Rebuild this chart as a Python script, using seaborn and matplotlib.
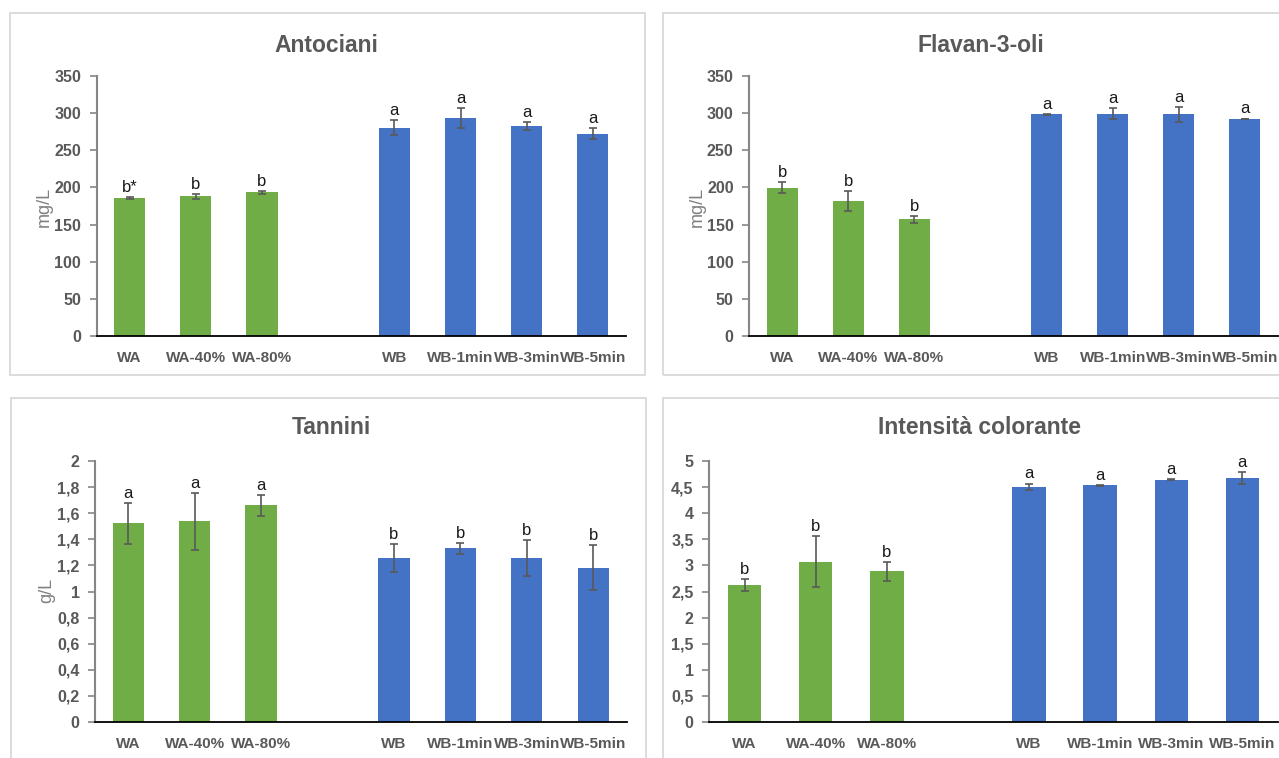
import matplotlib
matplotlib.use("Agg")
import matplotlib.pyplot as plt
from matplotlib.patches import Rectangle
import seaborn as sns
import pandas as pd

# ---------------- data ----------------
categories = ["WA", "WA-40%", "WA-80%", "WB", "WB-1min", "WB-3min", "WB-5min"]
groups = ["A", "A", "A", "B", "B", "B", "B"]
order = ["WA", "WA-40%", "WA-80%", " ", "WB", "WB-1min", "WB-3min", "WB-5min"]

antociani = [185.3, 188.0, 193.4, 280.4, 293.5, 282.7, 272.4]
antociani_err = [1.5, 3.5, 2.0, 10.0, 13.0, 5.5, 7.5]
antociani_lbl = ["b*", "b", "b", "a", "a", "a", "a"]

flavanoli = [199.7, 181.7, 157.0, 298.4, 299.3, 298.4, 292.1]
flavanoli_err = [7.5, 13.0, 5.0, 1.0, 7.0, 10.0, 0.6]
flavanoli_lbl = ["b", "b", "b", "a", "a", "a", "a"]

tannini = [1.522, 1.537, 1.662, 1.256, 1.330, 1.256, 1.182]
tannini_err = [0.158, 0.219, 0.080, 0.109, 0.040, 0.138, 0.173]
tannini_lbl = ["a", "a", "a", "b", "b", "b", "b"]

intensita = [2.625, 3.07, 2.886, 4.508, 4.534, 4.642, 4.674]
intensita_err = [0.11, 0.485, 0.176, 0.06, 0.012, 0.012, 0.115]
intensita_lbl = ["b", "b", "b", "a", "a", "a", "a"]

ticks_350 = [0, 50, 100, 150, 200, 250, 300, 350]
ticks_350_lbl = ["0", "50", "100", "150", "200", "250", "300", "350"]
ticks_2 = [0, 0.2, 0.4, 0.6, 0.8, 1.0, 1.2, 1.4, 1.6, 1.8, 2.0]
ticks_2_lbl = ["0", "0,2", "0,4", "0,6", "0,8", "1", "1,2", "1,4", "1,6", "1,8", "2"]
ticks_5 = [0, 0.5, 1, 1.5, 2, 2.5, 3, 3.5, 4, 4.5, 5]
ticks_5_lbl = ["0", "0,5", "1", "1,5", "2", "2,5", "3", "3,5", "4", "4,5", "5"]

titles = ["Antociani", "Flavan-3-oli", "Tannini", "Intensità colorante"]
ylabels = ["mg/L", "mg/L", "g/L", ""]

# ---------------- style ----------------
sns.set_style("white")
plt.rcParams["font.family"] = ["Liberation Sans", "DejaVu Sans"]

GREEN = "#70AD47"
BLUE = "#4472C4"
GREY = "#595959"

W, H = 1279, 758
fig = plt.figure(figsize=(W / 100, H / 100), dpi=100)


def fx(px):
    return px / W


def fy(py):
    return 1 - py / H


# panel borders
for (x0, y0, x1, y1) in [(10, 13, 645, 375), (663, 13, 1290, 375),
                         (11, 398, 646, 770), (663, 398, 1290, 770)]:
    fig.patches.append(Rectangle((fx(x0), fy(y1)), fx(x1 - x0), (y1 - y0) / H,
                                 transform=fig.transFigure, facecolor="none",
                                 edgecolor="#D9D9D9", lw=1.3, zorder=0))

panels = [
    dict(vals=antociani, err=antociani_err, lbl=antociani_lbl, ticks=ticks_350,
         tlbl=ticks_350_lbl, ymax=350, box=(96.5, 626, 76, 336), title_xy=(326, 45),
         ylab_xy=(44, 207)),
    dict(vals=flavanoli, err=flavanoli_err, lbl=flavanoli_lbl, ticks=ticks_350,
         tlbl=ticks_350_lbl, ymax=350, box=(749, 1278, 76, 336), title_xy=(981, 45),
         ylab_xy=(697, 207)),
    dict(vals=tannini, err=tannini_err, lbl=tannini_lbl, ticks=ticks_2,
         tlbl=ticks_2_lbl, ymax=2, box=(95, 626.5, 461, 722), title_xy=(331, 428),
         ylab_xy=(47, 590)),
    dict(vals=intensita, err=intensita_err, lbl=intensita_lbl, ticks=ticks_5,
         tlbl=ticks_5_lbl, ymax=5, box=(709, 1278, 461, 722), title_xy=(979, 428),
         ylab_xy=None),
]

for i, p in enumerate(panels):
    l, r, t, b = p["box"]
    ax = fig.add_axes([fx(l), fy(b), fx(r - l), (b - t) / H])
    df = pd.DataFrame({"cat": categories, "val": p["vals"], "grp": groups})
    sns.barplot(data=df, x="cat", y="val", hue="grp", order=order,
                palette={"A": GREEN, "B": BLUE}, dodge=False, width=0.47,
                errorbar=None, legend=False, ax=ax, saturation=1,
                edgecolor="none", zorder=2)
    pos = [order.index(c) for c in categories]
    ax.errorbar(pos, p["vals"], yerr=p["err"], fmt="none", ecolor=GREY,
                elinewidth=1.2, capsize=3, capthick=1.2, zorder=3)
    for x, v, e, s in zip(pos, p["vals"], p["err"], p["lbl"]):
        ax.annotate(s, (x, v + e), xytext=(0, 1.5), textcoords="offset points",
                    ha="center", va="bottom", fontsize=12, color="#1a1a1a")
    ax.set_xlim(-0.5, 7.5)
    ax.set_ylim(0, p["ymax"])
    ax.set_yticks(p["ticks"])
    ax.set_yticklabels(p["tlbl"])
    ax.set_xlabel("")
    ax.set_ylabel("")
    ax.set_facecolor("none")
    for s in ["top", "right"]:
        ax.spines[s].set_visible(False)
    ax.spines["left"].set_color("#868686")
    ax.spines["left"].set_linewidth(1.5)
    ax.spines["bottom"].set_color("#000000")
    ax.spines["bottom"].set_linewidth(1.3)
    ax.tick_params(axis="y", which="major", direction="out", length=5, width=1.2,
                   color="#868686", pad=6, labelsize=11.5, labelcolor=GREY, left=True)
    ax.tick_params(axis="x", length=0, pad=11, labelsize=11, labelcolor=GREY)
    for tl in ax.get_yticklabels() + ax.get_xticklabels():
        tl.set_fontweight("bold")
    tx, ty = p["title_xy"]
    fig.text(fx(tx), fy(ty), titles[i], ha="center", va="center", fontsize=16.5,
             fontweight="bold", color=GREY)
    if p["ylab_xy"] is not None:
        lx, ly = p["ylab_xy"]
        fig.text(fx(lx), fy(ly), ylabels[i], ha="center", va="center", rotation=90,
                 fontsize=13, color="#808080")

fig.savefig("out.png", dpi=100, facecolor="white")
